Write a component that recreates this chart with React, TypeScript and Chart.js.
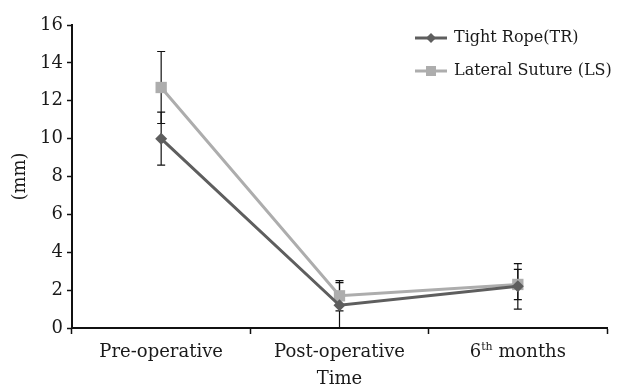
import React, { useEffect, useRef } from "react";
import { Chart, registerables } from "chart.js";

Chart.register(...registerables);

const categories = ["Pre-operative", "Post-operative", "6th months"];
const trValues = [10, 1.2, 2.2];
const trErrors = [1.4, 1.2, 1.2];
const lsValues = [12.7, 1.7, 2.3];
const lsErrors = [1.9, 0.8, 0.8];
const seriesNames = ["Tight Rope(TR)", "Lateral Suture (LS)"];
const yTicks = [0, 2, 4, 6, 8, 10, 12, 14, 16];

const FONT = "'DejaVu Serif', serif";
const TEXT = "#1a1a1a";

const errorBarsPlugin = {
  id: "errorBars",
  beforeDatasetsDraw(chart: any) {
    const ctx = chart.ctx;
    const x = chart.scales.x;
    const y = chart.scales.y;
    ctx.save();
    ctx.strokeStyle = "#111";
    ctx.lineWidth = 1.2;
    chart.data.datasets.forEach((ds: any) => {
      const errs: number[] = ds.errors;
      ds.data.forEach((v: number, i: number) => {
        const px = x.getPixelForValue(i);
        const top = y.getPixelForValue(v + errs[i]);
        const bot = y.getPixelForValue(Math.max(0, v - errs[i]));
        ctx.beginPath();
        ctx.moveTo(px, top);
        ctx.lineTo(px, bot);
        ctx.moveTo(px - 4, top);
        ctx.lineTo(px + 4, top);
        ctx.moveTo(px - 4, bot);
        ctx.lineTo(px + 4, bot);
        ctx.stroke();
      });
    });
    ctx.restore();
  },
};

const labelsPlugin = {
  id: "customLabels",
  afterDraw(chart: any) {
    const ctx = chart.ctx;
    const x = chart.scales.x;
    const area = chart.chartArea;
    ctx.save();
    ctx.fillStyle = TEXT;
    ctx.textBaseline = "alphabetic";
    const baseY = area.bottom + 29;
    categories.forEach((label, i) => {
      const px = x.getPixelForValue(i);
      const m = label.match(/^(\d+)(st|nd|rd|th)(.*)$/);
      if (m) {
        ctx.font = `18px ${FONT}`;
        const w1 = ctx.measureText(m[1]).width;
        const w3 = ctx.measureText(m[3]).width;
        ctx.font = `11px ${FONT}`;
        const w2 = ctx.measureText(m[2]).width;
        const total = w1 + w2 + w3;
        let cx = px - total / 2;
        ctx.textAlign = "left";
        ctx.font = `18px ${FONT}`;
        ctx.fillText(m[1], cx, baseY);
        cx += w1;
        ctx.font = `11px ${FONT}`;
        ctx.fillText(m[2], cx, baseY - 7);
        cx += w2;
        ctx.font = `18px ${FONT}`;
        ctx.fillText(m[3], cx, baseY);
      } else {
        ctx.font = `18px ${FONT}`;
        ctx.textAlign = "center";
        ctx.fillText(label, px, baseY);
      }
    });

    // legend
    const lx = chart.width - 203;
    const rows = [38, 71];
    chart.data.datasets.forEach((ds: any, i: number) => {
      const ly = rows[i];
      ctx.strokeStyle = ds.borderColor;
      ctx.lineWidth = 3;
      ctx.beginPath();
      ctx.moveTo(lx, ly);
      ctx.lineTo(lx + 32, ly);
      ctx.stroke();
      ctx.fillStyle = ds.backgroundColor;
      const mx = lx + 16;
      if (ds.pointStyle === "rectRot") {
        ctx.beginPath();
        ctx.moveTo(mx, ly - 5);
        ctx.lineTo(mx + 5, ly);
        ctx.lineTo(mx, ly + 5);
        ctx.lineTo(mx - 5, ly);
        ctx.closePath();
        ctx.fill();
      } else {
        ctx.fillRect(mx - 5, ly - 5, 10, 10);
      }
      ctx.fillStyle = TEXT;
      ctx.font = `16px ${FONT}`;
      ctx.textAlign = "left";
      ctx.textBaseline = "middle";
      ctx.fillText(ds.label, lx + 39, ly);
      ctx.textBaseline = "alphabetic";
    });
    ctx.restore();
  },
};

export default function App() {
  const ref = useRef<HTMLCanvasElement>(null);
  useEffect(() => {
    document.body.style.margin = "0";
    if (!ref.current) return;
    const chart = new Chart(ref.current, {
      type: "line",
      data: {
        labels: categories,
        datasets: [
          {
            label: seriesNames[0],
            data: trValues,
            errors: trErrors,
            borderColor: "#5e5e5e",
            backgroundColor: "#5e5e5e",
            borderWidth: 3,
            pointStyle: "rectRot",
            pointRadius: 6,
            pointBorderWidth: 0,
            tension: 0,
          } as any,
          {
            label: seriesNames[1],
            data: lsValues,
            errors: lsErrors,
            borderColor: "#adadad",
            backgroundColor: "#adadad",
            borderWidth: 3,
            pointStyle: "rect",
            pointRadius: 8,
            pointBorderWidth: 0,
            tension: 0,
          } as any,
        ],
      },
      options: {
        animation: false,
        responsive: false,
        events: [],
        layout: { padding: { top: 25, right: 11, left: 0, bottom: 0 } },
        plugins: {
          legend: { display: false },
          tooltip: { enabled: false },
        },
        scales: {
          x: {
            type: "category",
            offset: true,
            grid: {
              offset: true,
              drawOnChartArea: false,
              drawTicks: true,
              tickLength: 6,
              tickWidth: 1.5,
              color: "#111",
            },
            border: { display: true, color: "#111", width: 2 },
            ticks: { display: false },
            title: {
              display: true,
              text: "Time",
              font: { family: FONT, size: 18 },
              color: TEXT,
              padding: { top: 0, bottom: 0 },
            },
            afterFit(scale: any) {
              scale.height = 62;
            },
          },
          y: {
            min: 0,
            max: 16,
            afterBuildTicks(scale: any) {
              scale.ticks = yTicks.map((v) => ({ value: v }));
            },
            grid: {
              drawOnChartArea: false,
              drawTicks: true,
              tickLength: 5,
              tickWidth: 1.5,
              color: "#111",
            },
            border: { display: true, color: "#111", width: 2 },
            ticks: {
              font: { family: FONT, size: 18 },
              color: TEXT,
              padding: 4,
            },
            title: {
              display: true,
              text: "(mm)",
              font: { family: FONT, size: 18 },
              color: TEXT,
              padding: { top: 10, bottom: 0 },
            },
            afterFit(scale: any) {
              scale.width = 72;
            },
          },
        },
      },
      plugins: [errorBarsPlugin, labelsPlugin],
    });
    return () => chart.destroy();
  }, []);
  return (
    <div style={{ width: 618, height: 390 }}>
      <canvas ref={ref} width={618} height={390} style={{ display: "block" }} />
    </div>
  );
}
